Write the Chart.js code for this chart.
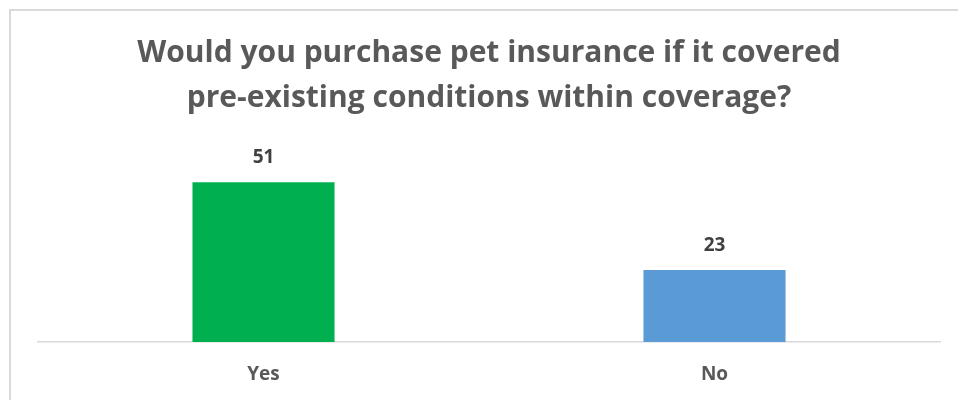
<!DOCTYPE html>
<html>
<head>
<meta charset="utf-8">
<script src="https://cdn.jsdelivr.net/npm/chart.js@4/dist/chart.umd.min.js"></script>
<style>
  html, body { margin: 0; padding: 0; background: #ffffff; }
  #wrap { width: 958px; height: 400px; position: relative; }
</style>
</head>
<body>
<div id="wrap"><canvas id="chart" width="958" height="400"></canvas></div>
<script>
// Survey answers and response counts
const categories = ['Yes', 'No'];
const responses = [51, 23];
const barColors = ['#00B050', '#5B9BD5'];
const titleLines = [
  'Would you purchase pet insurance if it covered',
  'pre-existing conditions within coverage?'
];

// Light frame around the chart
const framePlugin = {
  id: 'frame',
  beforeDraw(chart) {
    const ctx = chart.ctx;
    ctx.save();
    ctx.fillStyle = '#ffffff';
    ctx.fillRect(0, 0, chart.width, chart.height);
    ctx.strokeStyle = '#d9d9d9';
    ctx.lineWidth = 2;
    ctx.strokeRect(10, 10, chart.width + 20, chart.height + 20);
    ctx.restore();
  }
};

// Value labels above each bar
const valueLabels = {
  id: 'valueLabels',
  afterDatasetsDraw(chart) {
    const ctx = chart.ctx;
    const meta = chart.getDatasetMeta(0);
    const data = chart.data.datasets[0].data;
    ctx.save();
    ctx.font = 'bold 19px "Open Sans"';
    ctx.fillStyle = '#404040';
    ctx.textAlign = 'center';
    ctx.textBaseline = 'alphabetic';
    meta.data.forEach((bar, i) => {
      ctx.fillText(String(data[i]), bar.x, bar.y - 19);
    });
    ctx.restore();
  }
};

new Chart(document.getElementById('chart'), {
  type: 'bar',
  data: {
    labels: categories,
    datasets: [{
      data: responses,
      backgroundColor: barColors,
      borderWidth: 0,
      categoryPercentage: 1,
      barPercentage: 0.315
    }]
  },
  options: {
    responsive: false,
    animation: false,
    layout: { padding: { left: 38, right: 18, top: 0, bottom: 15 } },
    plugins: {
      legend: { display: false },
      tooltip: { enabled: false },
      title: {
        display: true,
        text: titleLines,
        color: '#595959',
        font: { family: 'Open Sans', size: 30, weight: 'bold', lineHeight: 1.5 },
        padding: { top: 31, bottom: 33 }
      }
    },
    scales: {
      x: {
        grid: { display: false, drawTicks: false },
        border: { display: true, color: '#d9d9d9', width: 1.5 },
        ticks: {
          color: '#595959',
          padding: 21,
          font: { family: 'Open Sans', size: 19, weight: 'bold' }
        },
        afterFit(scale) { scale.height = 43; }
      },
      y: {
        display: false,
        min: 0,
        max: 60
      }
    }
  },
  plugins: [framePlugin, valueLabels]
});
</script>
</body>
</html>
